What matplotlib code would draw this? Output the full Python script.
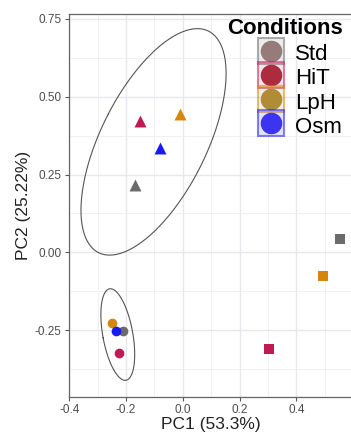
import numpy as np
import matplotlib
matplotlib.use("Agg")
import matplotlib.pyplot as plt
from matplotlib.lines import Line2D
from matplotlib.legend_handler import HandlerTuple

plt.rcParams['font.family'] = ['Liberation Sans', 'DejaVu Sans']

# Conditions and their colours
conditions = ["Std", "HiT", "LpH", "Osm"]
colors = ["#6B6B6B", "#C01A55", "#D4870A", "#1A1AEF"]
legend_colors = ["#977A7A", "#AC2C3E", "#B08C34", "#3C34F0"]

# PC scores, one list per shape group (in condition order)
tri_pc1 = [-0.168, -0.152, -0.011, -0.081]
tri_pc2 = [0.218, 0.422, 0.444, 0.336]
circ_pc1 = [-0.209, -0.223, -0.248, -0.236]
circ_pc2 = [-0.253, -0.324, -0.228, -0.252]
sq_pc1 = [0.554, 0.304, 0.494, np.nan]
sq_pc2 = [0.043, -0.311, -0.076, np.nan]

W, H = 351, 438
fig = plt.figure(figsize=(W / 100, H / 100), dpi=100)
ax = fig.add_axes([68.7 / W, 41.3 / H, (353 - 68.7) / W, (396.7 - 14) / H])

groups = [(tri_pc1, tri_pc2, "^", 8.6), (circ_pc1, circ_pc2, "o", 7.0),
          (sq_pc1, sq_pc2, "s", 7.4)]

for i, cond in enumerate(conditions):
    for xs, ys, mk, ms in groups:
        if np.isnan(xs[i]):
            continue
        ax.scatter([xs[i]], [ys[i]], marker=mk, s=ms ** 2, color=colors[i],
                   linewidths=0, zorder=3)


# 95% type ellipses around the triangle and circle groups
def ellipse(xs, ys, r=3.55, n=200):
    pts = np.column_stack([xs, ys])
    mu = pts.mean(axis=0)
    cov = np.cov(pts.T)
    vals, vecs = np.linalg.eigh(cov)
    t = np.linspace(0, 2 * np.pi, n)
    circ = np.column_stack([np.cos(t), np.sin(t)]) * np.sqrt(vals) * r
    return mu + circ @ vecs.T


for xs, ys in [(tri_pc1, tri_pc2), (circ_pc1, circ_pc2)]:
    e = ellipse(xs, ys)
    ax.plot(e[:, 0], e[:, 1], color="#555555", lw=0.8, zorder=2)

ax.set_xlim(-0.402, 0.600)
ax.set_ylim(-0.464, 0.766)
ax.set_xticks([-0.4, -0.2, 0.0, 0.2, 0.4])
ax.set_xticklabels(["-0.4", "-0.2", "0.0", "0.2", "0.4"])
ax.set_yticks([-0.25, 0.0, 0.25, 0.5, 0.75])
ax.set_yticklabels(["-0.25", "0.00", "0.25", "0.50", "0.75"])
ax.set_xticks([-0.3, -0.1, 0.1, 0.3, 0.5], minor=True)
ax.set_yticks([-0.375, -0.125, 0.125, 0.375, 0.625], minor=True)
ax.tick_params(which="minor", length=0)
ax.tick_params(which="major", length=3, width=0.8, color="#555555",
               labelsize=8.5, labelcolor="#4D4D4D", pad=2)
ax.grid(which="major", color="#E6E8EE", lw=1.0, zorder=0)
ax.grid(which="minor", color="#EDEFF3", lw=0.6, zorder=0)
ax.set_axisbelow(True)
for s in ax.spines.values():
    s.set_color("#666666")
    s.set_linewidth(0.9)

ax.set_xlabel("PC1 (53.3%)", fontsize=12.5, color="#222222", labelpad=1)
ax.set_ylabel("PC2 (25.22%)", fontsize=12.5, color="#222222", labelpad=3)

# legend
handles = []
for c, lc in zip(colors, legend_colors):
    sq = Line2D([], [], marker="s", ls="", ms=19.0,
                markerfacecolor=matplotlib.colors.to_rgba(c, 0.12),
                markeredgecolor=matplotlib.colors.to_rgba(c, 0.55),
                markeredgewidth=1.5)
    dot = Line2D([], [], marker="o", ls="", ms=14.5, color=lc)
    handles.append((sq, dot))

fig.legend(handles, conditions, loc="upper left",
           bbox_to_anchor=(257 / W, 1 - 41 / H), frameon=False,
           borderpad=0, borderaxespad=0, handlelength=1.25, handleheight=1.25,
           labelspacing=0.0, handletextpad=0.45, fontsize=16,
           handler_map={tuple: HandlerTuple(ndivide=1, pad=0)})
fig.text(227 / W, 1 - 33.5 / H, "Conditions", fontsize=16, fontweight="bold",
         va="baseline", ha="left")

fig.savefig("out.png", dpi=100)
